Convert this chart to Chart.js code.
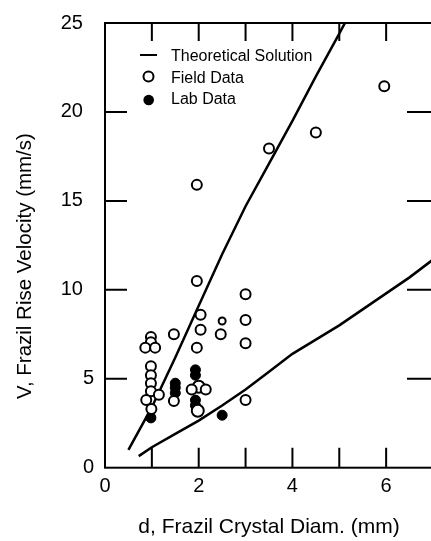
<!DOCTYPE html>
<html>
<head>
<meta charset="utf-8">
<script src="https://cdn.jsdelivr.net/npm/chart.js@4.4.0/dist/chart.umd.min.js"></script>
<style>
html, body { margin: 0; padding: 0; background: #fff; overflow: hidden; }
</style>
</head>
<body>
<canvas id="mycanvas" width="441" height="541"></canvas>
<script>
// theoretical solution, two branches
var upperD = [0.5, 1.0, 1.5, 2.0, 2.5, 3.0, 3.5, 4.0, 4.5, 5.0, 5.2];
var upperV = [1.0, 3.4, 6.2, 9.1, 12.0, 14.7, 17.1, 19.5, 22.0, 24.4, 25.4];
var lowerD = [0.72, 1.0, 1.5, 2.0, 2.5, 3.0, 3.5, 4.0, 4.5, 5.0, 5.5, 6.0, 6.5, 7.0];
var lowerV = [0.65, 1.15, 1.9, 2.65, 3.5, 4.4, 5.4, 6.4, 7.2, 8.0, 8.9, 9.8, 10.7, 11.7];

// field data (open circles)
var fieldD = [0.98, 0.98, 0.86, 1.07, 0.98, 0.98, 0.98, 0.98, 0.88, 0.99, 1.15,
              1.47, 1.47, 1.96, 1.96, 2.04, 2.04, 1.96, 2.0, 1.85, 2.15, 1.98,
              2.5, 2.47, 3.0, 3.0, 3.0, 3.0, 3.5, 4.5, 5.96];
var fieldV = [7.35, 7.05, 6.75, 6.75, 5.7, 5.2, 4.75, 4.3, 3.8, 3.3, 4.1,
              7.5, 3.75, 15.9, 10.5, 8.6, 7.75, 6.75, 4.55, 4.4, 4.4, 3.2,
              8.25, 7.5, 9.75, 8.3, 7.0, 3.8, 17.95, 18.85, 21.45];
var fieldR = [5, 5, 5, 5, 5, 5, 5, 5, 5, 5, 5,
              5, 5, 5, 5, 5, 5, 5, 6, 5, 5, 6,
              3.5, 5, 5, 5, 5, 5, 5, 5, 5];

// lab data (filled dots)
var labD = [0.98, 1.5, 1.5, 1.5, 1.93, 1.93, 1.93, 1.93, 2.5];
var labV = [2.8, 4.75, 4.5, 4.2, 5.5, 5.2, 3.8, 3.5, 2.95];

var xTickMarks = [1, 2, 3, 4, 5, 6];
var yTickMarks = [5, 10, 15, 20];
var legendLabels = ['Theoretical Solution', 'Field Data', 'Lab Data'];
var yTitle = 'V, Frazil Rise Velocity (mm/s)';

var FONT = 'Liberation Sans, Arial, Helvetica, sans-serif';

function pts(xs, ys) {
	var out = [];
	for (var i in xs) {
		out.push({x: xs[i], y: ys[i]});
	}
	return out;
}

var framePlugin = {
	id: 'frame',
	afterDraw: function(chart) {
		var ctx = chart.ctx;
		var a = chart.chartArea;
		var xs = chart.scales.x, ys = chart.scales.y;
		ctx.save();
		ctx.strokeStyle = '#000';
		ctx.lineWidth = 2;
		ctx.strokeRect(a.left, a.top, a.right - a.left, a.bottom - a.top);
		ctx.beginPath();
		xTickMarks.forEach(function(v) {
			var px = xs.getPixelForValue(v);
			ctx.moveTo(px, a.bottom); ctx.lineTo(px, a.bottom - 20);
			ctx.moveTo(px, a.top); ctx.lineTo(px, a.top + 18);
		});
		yTickMarks.forEach(function(v) {
			var py = ys.getPixelForValue(v);
			ctx.moveTo(a.left, py); ctx.lineTo(a.left + 22, py);
			ctx.moveTo(a.right, py); ctx.lineTo(a.right - 26, py);
		});
		ctx.stroke();

		// legend
		ctx.fillStyle = '#000';
		ctx.font = '16px ' + FONT;
		ctx.textBaseline = 'alphabetic';
		ctx.beginPath();
		ctx.moveTo(140, 55); ctx.lineTo(157, 55);
		ctx.stroke();
		ctx.beginPath();
		ctx.arc(148.5, 76.5, 5, 0, Math.PI * 2);
		ctx.stroke();
		ctx.beginPath();
		ctx.arc(148.7, 100, 5.3, 0, Math.PI * 2);
		ctx.fill();
		ctx.fillText(legendLabels[0], 171, 61);
		ctx.fillText(legendLabels[1], 171, 82.5);
		ctx.fillText(legendLabels[2], 171, 104);

		// y axis title, sits a bit below the middle of the axis
		ctx.font = '20.5px ' + FONT;
		ctx.textAlign = 'center';
		ctx.textBaseline = 'middle';
		ctx.translate(25, 266);
		ctx.rotate(-Math.PI / 2);
		ctx.fillText(yTitle, 0, 0);
		ctx.restore();
	}
};

var ctx = document.getElementById('mycanvas');

var chart = new Chart(ctx, {
	type: 'scatter',
	data: {
		datasets: [
			{
				label: legendLabels[1],
				data: pts(fieldD, fieldV),
				pointRadius: fieldR,
				pointBackgroundColor: '#fff',
				pointBorderColor: '#000',
				pointBorderWidth: 2,
				order: 0
			},
			{
				label: legendLabels[2],
				data: pts(labD, labV),
				pointRadius: 5,
				pointBackgroundColor: '#000',
				pointBorderColor: '#000',
				pointBorderWidth: 1,
				order: 1
			},
			{
				label: legendLabels[0],
				data: pts(upperD, upperV),
				showLine: true,
				pointRadius: 0,
				borderColor: '#000',
				borderWidth: 2.5,
				order: 2
			},
			{
				label: legendLabels[0],
				data: pts(lowerD, lowerV),
				showLine: true,
				pointRadius: 0,
				borderColor: '#000',
				borderWidth: 2.5,
				order: 2
			}
		]
	},
	options: {
		responsive: false,
		animation: false,
		devicePixelRatio: 1,
		layout: { padding: { top: 15.7, right: 2.3, left: 0, bottom: 0 } },
		plugins: {
			legend: { display: false },
			tooltip: { enabled: false }
		},
		scales: {
			x: {
				type: 'linear',
				min: 0,
				max: 7,
				grid: { display: false, drawTicks: false },
				border: { display: false },
				ticks: {
					stepSize: 2,
					padding: 7,
					color: '#000',
					font: { family: FONT, size: 20 },
					callback: function(v) { return v % 2 === 0 ? v : ''; }
				},
				title: {
					display: true,
					text: 'd, Frazil Crystal Diam. (mm)',
					color: '#000',
					font: { family: FONT, size: 21 },
					padding: { top: 0, bottom: 1.5 }
				},
				afterFit: function(s) { s.height = 73.3; }
			},
			y: {
				type: 'linear',
				min: 0,
				max: 25,
				grid: { display: false, drawTicks: false },
				border: { display: false },
				ticks: {
					stepSize: 5,
					padding: 11,
					color: '#000',
					font: { family: FONT, size: 20 },
					// two-digit labels stand further left in the original
					callback: function(v) { return v >= 10 ? v + '  ' : '' + v; }
				},
				afterFit: function(s) { s.width = 105; }
			}
		}
	},
	plugins: [framePlugin]
});
</script>
</body>
</html>
